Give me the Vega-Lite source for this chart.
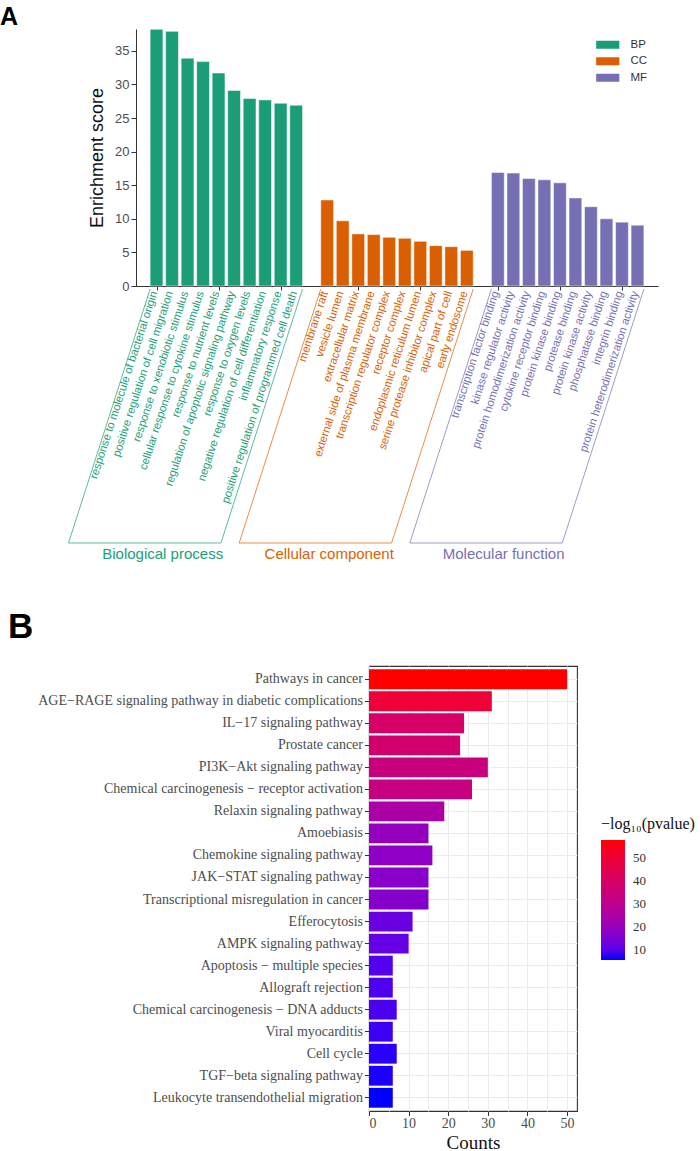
{
  "$schema": "https://vega.github.io/schema/vega-lite/v6.json",
  "background": "white",
  "padding": {"left": 0, "top": 5, "right": 0, "bottom": 0},
  "config": {"view": {"stroke": null}},
  "datasets": {
    "go": [
      {"term": "response to molecule of bacterial origin", "idx": 1, "score": 38.2, "ont": "BP", "category": "Biological process"},
      {"term": "positive regulation of cell migration", "idx": 2, "score": 37.9, "ont": "BP", "category": "Biological process"},
      {"term": "response to xenobiotic stimulus", "idx": 3, "score": 33.9, "ont": "BP", "category": "Biological process"},
      {"term": "cellular response to cytokine stimulus", "idx": 4, "score": 33.4, "ont": "BP", "category": "Biological process"},
      {"term": "response to nutrient levels", "idx": 5, "score": 31.7, "ont": "BP", "category": "Biological process"},
      {"term": "regulation of apoptotic signaling pathway", "idx": 6, "score": 29.1, "ont": "BP", "category": "Biological process"},
      {"term": "response to oxygen levels", "idx": 7, "score": 27.9, "ont": "BP", "category": "Biological process"},
      {"term": "negative regulation of cell differentiation", "idx": 8, "score": 27.7, "ont": "BP", "category": "Biological process"},
      {"term": "inflammatory response", "idx": 9, "score": 27.2, "ont": "BP", "category": "Biological process"},
      {"term": "positive regulation of programmed cell death", "idx": 10, "score": 26.9, "ont": "BP", "category": "Biological process"},
      {"term": "membrane raft", "idx": 12, "score": 12.8, "ont": "CC", "category": "Cellular component"},
      {"term": "vesicle lumen", "idx": 13, "score": 9.7, "ont": "CC", "category": "Cellular component"},
      {"term": "extracellular matrix", "idx": 14, "score": 7.75, "ont": "CC", "category": "Cellular component"},
      {"term": "external side of plasma membrane", "idx": 15, "score": 7.65, "ont": "CC", "category": "Cellular component"},
      {"term": "transcription regulator complex", "idx": 16, "score": 7.25, "ont": "CC", "category": "Cellular component"},
      {"term": "receptor complex", "idx": 17, "score": 7.1, "ont": "CC", "category": "Cellular component"},
      {"term": "endoplasmic reticulum lumen", "idx": 18, "score": 6.65, "ont": "CC", "category": "Cellular component"},
      {"term": "serine protease inhibitor complex", "idx": 19, "score": 6.0, "ont": "CC", "category": "Cellular component"},
      {"term": "apical part of cell", "idx": 20, "score": 5.85, "ont": "CC", "category": "Cellular component"},
      {"term": "early endosome", "idx": 21, "score": 5.3, "ont": "CC", "category": "Cellular component"},
      {"term": "transcription factor binding", "idx": 23, "score": 16.9, "ont": "MF", "category": "Molecular function"},
      {"term": "kinase regulator activity", "idx": 24, "score": 16.8, "ont": "MF", "category": "Molecular function"},
      {"term": "protein homodimerization activity", "idx": 25, "score": 16.0, "ont": "MF", "category": "Molecular function"},
      {"term": "cytokine receptor binding", "idx": 26, "score": 15.8, "ont": "MF", "category": "Molecular function"},
      {"term": "protein kinase binding", "idx": 27, "score": 15.35, "ont": "MF", "category": "Molecular function"},
      {"term": "protease binding", "idx": 28, "score": 13.1, "ont": "MF", "category": "Molecular function"},
      {"term": "protein kinase activity", "idx": 29, "score": 11.8, "ont": "MF", "category": "Molecular function"},
      {"term": "phosphatase binding", "idx": 30, "score": 10.0, "ont": "MF", "category": "Molecular function"},
      {"term": "integrin binding", "idx": 31, "score": 9.5, "ont": "MF", "category": "Molecular function"},
      {"term": "protein heterodimerization activity", "idx": 32, "score": 9.05, "ont": "MF", "category": "Molecular function"}
    ],
    "kegg": [
      {"term": "Pathways in cancer", "count": 50, "logp": 58},
      {"term": "AGE−RAGE signaling pathway in diabetic complications", "count": 31, "logp": 50},
      {"term": "IL−17 signaling pathway", "count": 24, "logp": 39.7},
      {"term": "Prostate cancer", "count": 23, "logp": 38},
      {"term": "PI3K−Akt signaling pathway", "count": 30, "logp": 34.4},
      {"term": "Chemical carcinogenesis − receptor activation", "count": 26, "logp": 33.4},
      {"term": "Relaxin signaling pathway", "count": 19, "logp": 25},
      {"term": "Amoebiasis", "count": 15, "logp": 19.7},
      {"term": "Chemokine signaling pathway", "count": 16, "logp": 18.2},
      {"term": "JAK−STAT signaling pathway", "count": 15, "logp": 17},
      {"term": "Transcriptional misregulation in cancer", "count": 15, "logp": 16.6},
      {"term": "Efferocytosis", "count": 11, "logp": 11.9},
      {"term": "AMPK signaling pathway", "count": 10, "logp": 11.4},
      {"term": "Apoptosis − multiple species", "count": 6, "logp": 9.3},
      {"term": "Allograft rejection", "count": 6, "logp": 9},
      {"term": "Chemical carcinogenesis − DNA adducts", "count": 7, "logp": 8.7},
      {"term": "Viral myocarditis", "count": 6, "logp": 7.7},
      {"term": "Cell cycle", "count": 7, "logp": 6.6},
      {"term": "TGF−beta signaling pathway", "count": 6, "logp": 6.1},
      {"term": "Leukocyte transendothelial migration", "count": 6, "logp": 5.6}
    ]
  },
  "vconcat": [
    {
      "width": 522,
      "height": 257,
      "title": {"text": "A", "anchor": "start", "frame": "group", "dx": -136, "offset": -21, "baseline": "alphabetic", "fontSize": 25, "font": "Liberation Sans", "fontWeight": "bold", "color": "#000000"},
      "data": {"name": "go"},
      "layer": [
        {
          "mark": {"type": "bar", "orient": "vertical", "width": 12.8, "stroke": "white", "strokeWidth": 0.5},
          "encoding": {
            "x": {"field": "idx", "type": "quantitative", "scale": {"domain": [0, 33], "nice": false, "zero": false},
              "axis": {"values": [1,2,3,4,5,6,7,8,9,10,12,13,14,15,16,17,18,19,20,21,23,24,25,26,27,28,29,30,31,32], "labels": false, "title": null, "tickSize": 4, "tickColor": "#333333", "domainColor": "#333333", "grid": false}},
            "y": {"field": "score", "type": "quantitative", "stack": null, "scale": {"domain": [0, 38.25], "nice": false},
              "axis": {"values": [0,5,10,15,20,25,30,35], "tickCount": 8, "labelOverlap": false, "labelFlush": false, "title": "Enrichment score", "titleFont": "Liberation Sans", "titleFontSize": 18, "titleFontWeight": "normal", "titleColor": "#111111", "titlePadding": 8, "labelFont": "Liberation Sans", "labelFontSize": 13, "labelColor": "#4D4D4D", "tickColor": "#333333", "domainColor": "#333333", "tickSize": 5, "labelPadding": 2, "grid": false}},
            "color": {"field": "ont", "type": "nominal", "scale": {"domain": ["BP", "CC", "MF"], "range": ["#1B9E77", "#D95F02", "#7570B3"]},
              "legend": {"title": null, "orient": "top-right", "offset": 10, "symbolType": "M-2.9,-1H2.9V1H-2.9Z", "symbolSize": 64, "symbolStrokeWidth": 0, "labelFont": "Liberation Sans", "labelFontSize": 11.5, "labelColor": "#333333", "labelOffset": 17, "rowPadding": 3.5}}
          }
        },
        {
          "mark": {"type": "text", "angle": 288, "align": "right", "baseline": "middle", "dx": -6, "fontSize": 11.3, "font": "Liberation Sans"},
          "encoding": {
            "x": {"field": "idx", "type": "quantitative"},
            "y": {"datum": 0, "axis": {"values": [0,5,10,15,20,25,30,35], "tickCount": 8, "labelOverlap": false}},
            "text": {"field": "term"},
            "color": {"field": "ont", "type": "nominal"}
          }
        },
        {
          "transform": [{"aggregate": [{"op": "min", "field": "idx", "as": "first"}, {"op": "max", "field": "idx", "as": "last"}], "groupby": ["ont", "category"]}],
          "layer": [
            {
              "mark": {"type": "rule", "strokeWidth": 0.7, "xOffset": -6.4, "x2Offset": -88, "yOffset": 3, "y2Offset": 257},
              "encoding": {"x": {"field": "first", "type": "quantitative"}, "x2": {"field": "first"}, "y": {"datum": 0, "axis": {"values": [0,5,10,15,20,25,30,35], "tickCount": 8, "labelOverlap": false}}, "y2": {"datum": 0}, "color": {"field": "ont", "type": "nominal"}}
            },
            {
              "mark": {"type": "rule", "strokeWidth": 0.7, "xOffset": 6.4, "x2Offset": -75.2, "yOffset": 3, "y2Offset": 257},
              "encoding": {"x": {"field": "last", "type": "quantitative"}, "x2": {"field": "last"}, "y": {"datum": 0, "axis": {"values": [0,5,10,15,20,25,30,35], "tickCount": 8, "labelOverlap": false}}, "y2": {"datum": 0}, "color": {"field": "ont", "type": "nominal"}}
            },
            {
              "mark": {"type": "rule", "strokeWidth": 0.7, "xOffset": -88, "x2Offset": -75.2, "yOffset": 257},
              "encoding": {"x": {"field": "first", "type": "quantitative"}, "x2": {"field": "last"}, "y": {"datum": 0, "axis": {"values": [0,5,10,15,20,25,30,35], "tickCount": 8, "labelOverlap": false}}, "color": {"field": "ont", "type": "nominal"}}
            },
            {
              "mark": {"type": "text", "align": "right", "baseline": "middle", "xOffset": -73, "yOffset": 268, "fontSize": 15, "font": "Liberation Sans"},
              "encoding": {"x": {"field": "last", "type": "quantitative"}, "y": {"datum": 0, "axis": {"values": [0,5,10,15,20,25,30,35], "tickCount": 8, "labelOverlap": false}}, "text": {"field": "category"}, "color": {"field": "ont", "type": "nominal"}}
            }
          ]
        }
      ]
    },
    {
      "hconcat": [
        {
          "width": 1,
          "height": 1,
          "data": {"values": [{}]},
          "mark": {"type": "point", "opacity": 0},
          "encoding": {}
        },
        {
          "width": 208,
          "height": 445,
          "view": {"stroke": "#333333", "strokeWidth": 1.1},
          "title": {"text": "B", "anchor": "start", "frame": "group", "dx": -361, "offset": -7, "baseline": "alphabetic", "fontSize": 35, "font": "Liberation Sans", "fontWeight": "bold", "color": "#000000"},
          "data": {"name": "kegg"},
          "mark": {"type": "bar"},
          "encoding": {
            "y": {"field": "term", "type": "nominal", "sort": null, "scale": {"paddingInner": 0.1, "paddingOuter": 0.15},
              "axis": {"title": null, "domain": false, "labelFont": "Liberation Serif", "labelFontSize": 14, "labelColor": "#4D4D4D", "tickColor": "#333333", "tickSize": 4.5, "labelPadding": 2, "grid": true, "gridColor": "#EBEBEB", "labelLimit": 400}},
            "x": {"field": "count", "type": "quantitative", "scale": {"domain": [0, 52.5], "nice": false},
              "axis": {"values": [0,5,10,15,20,25,30,35,40,45,50], "labelExpr": "datum.value % 10 === 0 ? datum.label : ''", "tickOpacity": {"condition": {"test": "datum.value % 10 !== 0", "value": 0}, "value": 1}, "domain": false, "grid": true, "gridColor": "#EBEBEB", "tickColor": "#333333", "tickSize": 4.5, "labelFont": "Liberation Serif", "labelFontSize": 14, "labelColor": "#4D4D4D", "labelPadding": 1, "title": "Counts", "titleFont": "Liberation Serif", "titleFontSize": 19, "titleFontWeight": "normal", "titleColor": "#111111", "titlePadding": 3}},
            "color": {"field": "logp", "type": "quantitative", "scale": {"range": ["#0000FF", "#FF0000"], "interpolate": "lab", "nice": false, "zero": false},
              "legend": {"title": "−log₁₀(pvalue)", "orient": "none", "legendX": 465, "legendY": 150, "padding": 0, "direction": "vertical", "gradientLength": 120, "gradientThickness": 24, "gradientStrokeWidth": 0, "values": [10, 20, 30, 40, 50], "labelFont": "Liberation Serif", "labelFontSize": 13, "labelColor": "#333333", "labelOffset": 8, "titleFont": "Liberation Serif", "titleFontSize": 16, "titleFontWeight": "normal", "titleColor": "#111111", "titlePadding": 8}}
          }
        }
      ],
      "spacing": 232,
      "bounds": "flush"
    }
  ],
  "spacing": 380,
  "bounds": "flush"
}
